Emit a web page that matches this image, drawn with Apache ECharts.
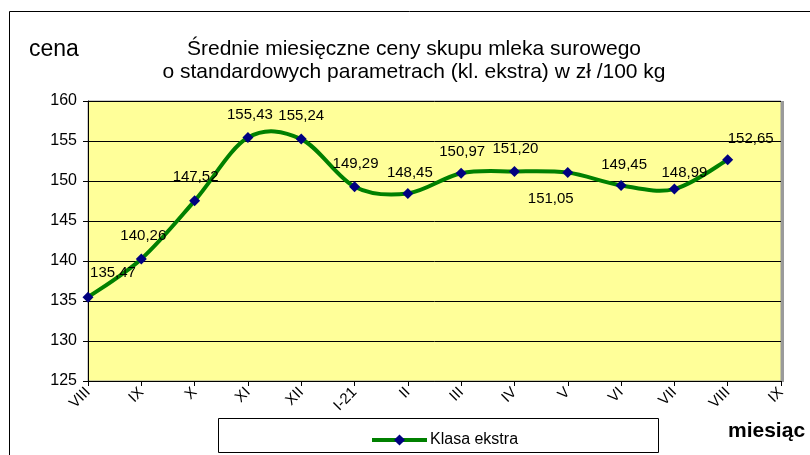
<!DOCTYPE html>
<html><head><meta charset="utf-8">
<script src="https://cdn.jsdelivr.net/npm/echarts@6/dist/echarts.min.js"></script>
<style>html,body{margin:0;padding:0;background:#fff}#c{width:810px;height:455px}</style>
</head><body><div id="c"></div>
<script>
var categories = ['VIII','IX','X','XI','XII','I-21','II','III','IV','V','VI','VII','VIII','IX'];
var values = [135.47, 140.26, 147.52, 155.43, 155.24, 149.29, 148.45, 150.97, 151.20, 151.05, 149.45, 148.99, 152.65];
var seriesName = 'Klasa ekstra';
var yTicks = [125, 130, 135, 140, 145, 150, 155, 160];
var labelOffsets = [[25,-24],[2,-23],[1,-24],[2,-23],[0,-23],[1,-23],[2,-21],[1,-21],[1,-23],[-17,26],[3,-21],[10,-16],[23,-21]];

var chart = echarts.init(document.getElementById('c'));
var font = '"Liberation Sans", Arial, sans-serif';
function fmt(v){ return v.toFixed(2).replace('.', ','); }
var seriesData = values.map(function(v,i){
  return {value: v, label: {offset: labelOffsets[i]}};
});

// Excel-style smoothed line drawn through the chart's own coordinate system
function renderSmooth(params, api){
  if (params.dataIndex !== 0) return null;
  var pts = values.map(function(v,i){ return api.coord([i, v]); });
  var n = pts.length;
  var d = 'M' + pts[0][0] + ' ' + pts[0][1];
  for (var i = 0; i < n - 1; i++){
    var p0 = pts[Math.max(i-1,0)], p1 = pts[i], p2 = pts[i+1], p3 = pts[Math.min(i+2,n-1)];
    var c1x = p1[0] + (p2[0]-p0[0])/6, c1y = p1[1] + (p2[1]-p0[1])/6;
    var c2x = p2[0] - (p3[0]-p1[0])/6, c2y = p2[1] - (p3[1]-p1[1])/6;
    d += ' C' + c1x + ' ' + c1y + ' ' + c2x + ' ' + c2y + ' ' + p2[0] + ' ' + p2[1];
  }
  return {type:'path', shape:{pathData: d}, style:{stroke:'#008000', lineWidth:4, fill:null, lineJoin:'round', lineCap:'round'}};
}

chart.setOption({
  animation: false,
  textStyle: {fontFamily: font},
  graphic: [
    {type:'polyline', shape:{points:[[9.5,455],[9.5,11.5],[810,11.5]]}, style:{stroke:'#000', lineWidth:1, fill:null}, z:0},
    {type:'rect', shape:{x:781, y:101, width:3, height:281}, style:{fill:'#9a9a9a'}, z:0},
    {type:'text', left:29, top:38, style:{text:'cena', font:'23px ' + font, fill:'#000'}},
    {type:'text', left:728, top:421, style:{text:'miesiąc', font:'bold 21px ' + font, fill:'#000'}},
    {type:'rect', shape:{x:218.5, y:418.5, width:440, height:34}, style:{fill:'#fff', stroke:'#000', lineWidth:1}, z:0}
  ],
  title: {
    text: 'Średnie miesięczne ceny skupu mleka surowego\no standardowych parametrach (kl. ekstra) w zł /100 kg',
    left: 409, top: 33, textAlign: 'center',
    textStyle: {fontFamily: font, fontSize: 21, fontWeight: 'normal', color: '#000', lineHeight: 23}
  },
  legend: {
    data: [{name: seriesName, lineStyle: {color:'#008000', width: 4, opacity: 1}}],
    left: 365, top: 427, itemWidth: 55, itemHeight: 14, itemGap: 2,
    textStyle: {fontFamily: font, fontSize: 16, color: '#000', padding: [0,0,0,-2]}
  },
  grid: {left: 88, right: 29, top: 101, bottom: 74, show: true, backgroundColor: '#ffff99', borderColor: '#9a9a9a', borderWidth: 1},
  xAxis: {
    type: 'category', data: categories, boundaryGap: false,
    axisLine: {lineStyle: {color: '#000'}},
    axisTick: {show: true, length: 5, lineStyle: {color: '#000'}},
    axisLabel: {rotate: 45, fontSize: 15, color: '#000', fontFamily: font, margin: 9, interval: 0},
    splitLine: {show: false}
  },
  yAxis: {
    type: 'value', min: yTicks[0], max: yTicks[yTicks.length-1], interval: 5,
    axisLine: {show: true, lineStyle: {color: '#000'}},
    axisTick: {show: true, length: 5, lineStyle: {color: '#000'}},
    axisLabel: {fontSize: 16, color: '#000', fontFamily: font, margin: 11},
    splitLine: {show: true, lineStyle: {color: '#000', width: 1}}
  },
  series: [
    {
      type: 'custom', renderItem: renderSmooth, data: values.map(function(v,i){ return [i, v]; }),
      z: 2, silent: true, tooltip: {show: false}
    },
    {
      name: seriesName, type: 'line', data: seriesData, z: 3,
      symbol: 'diamond', symbolSize: 11,
      lineStyle: {color: '#008000', width: 0, opacity: 0},
      itemStyle: {color: '#000080'},
      label: {show: true, position: 'inside', fontSize: 15, color: '#000', fontFamily: font,
        formatter: function(p){ return fmt(p.value); }}
    }
  ]
});
</script></body></html>
